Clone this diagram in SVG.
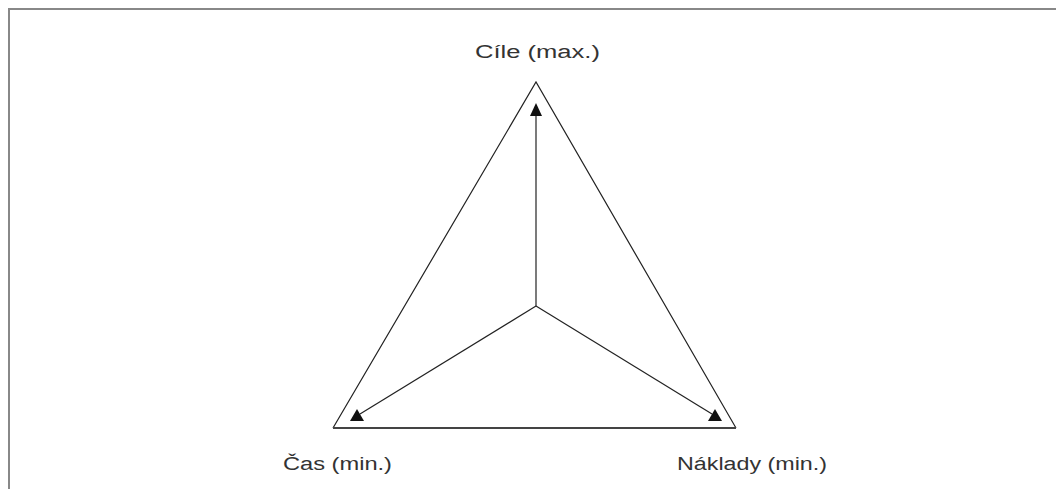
<svg xmlns="http://www.w3.org/2000/svg" width="1056" height="489" viewBox="0 0 1056 489">
<style>
.lbl{font-family:"Liberation Sans",Arial,sans-serif;font-size:18px;fill:#333}
.edge{stroke:#222;stroke-width:1.2;fill:none}
.head{fill:#111}
</style>
<rect width="1056" height="489" fill="#fff"/>
<g id="frame" stroke="#888" stroke-width="2" fill="none">
<line x1="8" y1="9" x2="1056" y2="9"/>
<line x1="9" y1="8" x2="9" y2="489"/>
</g>
<g id="triangle">
<polyline class="edge" points="333,428 536,82 736,428"/>
<line x1="333" y1="428" x2="736" y2="428" stroke="#444" stroke-width="2"/>
</g>
<g id="connectors">
<line class="edge" x1="536" y1="306" x2="536" y2="112"/>
<line class="edge" x1="536" y1="306" x2="360" y2="414"/>
<line class="edge" x1="536" y1="306" x2="712" y2="414"/>
<polygon class="head" points="536,103 530,116 542,116"/>
<polygon class="head" points="357,409 350,421 364,421"/>
<polygon class="head" points="715,409 708,421 722,421"/>
</g>
<g id="node-cile"><text class="lbl" x="475" y="58" textLength="125" lengthAdjust="spacingAndGlyphs">Cíle (max.)</text></g>
<g id="node-cas"><text class="lbl" x="283" y="470" textLength="109" lengthAdjust="spacingAndGlyphs">Čas (min.)</text></g>
<g id="node-naklady"><text class="lbl" x="677" y="470" textLength="150" lengthAdjust="spacingAndGlyphs">Náklady (min.)</text></g>
</svg>
